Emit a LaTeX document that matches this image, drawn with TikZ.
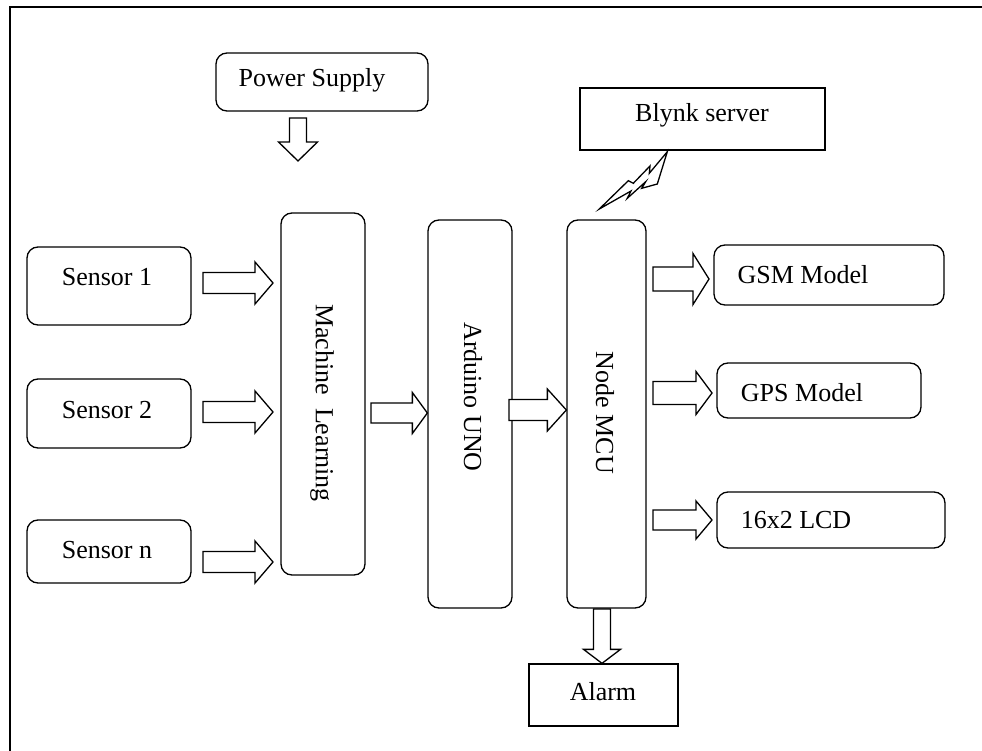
\documentclass[tikz,border=0pt]{standalone}
\usepackage{fontspec}
\setmainfont{Liberation Serif}
\usetikzlibrary{calc}
\tikzset{
  rbox/.style={draw, line width=1.3pt, rounded corners=11pt, inner sep=0pt},
  sbox/.style={draw, line width=1.3pt, inner sep=0pt},
  lbl/.style={font=\fontsize{26}{30}\selectfont, inner sep=0pt},
  blk/.style={draw, line width=1.3pt, fill=white, line join=miter},
  frame/.style={line width=1.8pt},
}
\newcommand\hblock[5]{\draw[blk] let \p1=(#1), \p2=(#2) in
  (\x1,\y1+#3) -- (\x2-#5,\y1+#3) -- (\x2-#5,\y1+#4) -- (\x2,\y1) --
  (\x2-#5,\y1-#4) -- (\x2-#5,\y1-#3) -- (\x1,\y1-#3) -- cycle;}
\newcommand\vblock[5]{\draw[blk] let \p1=(#1), \p2=(#2) in
  (\x1-#3,\y1) -- (\x1-#3,\y2+#5) -- (\x1-#4,\y2+#5) -- (\x1,\y2) --
  (\x1+#4,\y2+#5) -- (\x1+#3,\y2+#5) -- (\x1+#3,\y1) -- cycle;}
\begin{document}
\begin{tikzpicture}[x=1pt,y=-1pt]
\useasboundingbox (0,0) rectangle (982,751);
% outer frame
\draw[frame] (10,760) -- (10,7) -- (990,7);

% boxes
\node[rbox, minimum width=212pt, minimum height=58pt] (ps) at (322,82) {};
\node[lbl] (pst) at (312,80) {Power Supply};
\node[sbox, minimum width=245pt, minimum height=62pt] (bl) at (702.5,119) {};
\node[lbl] (blt) at (702,115) {Blynk server};

\node[rbox, minimum width=164pt, minimum height=78pt] (s1) at (109,286) {};
\node[lbl] (s1t) at (107,277) {Sensor 1};
\node[rbox, minimum width=164pt, minimum height=69pt] (s2) at (109,413.5) {};
\node[lbl] (s2t) at (107,410) {Sensor 2};
\node[rbox, minimum width=164pt, minimum height=63pt] (sn) at (109,551.5) {};
\node[lbl] (snt) at (107,550) {Sensor n};

\node[rbox, minimum width=84pt, minimum height=362pt] (ml) at (323,394) {};
\node[lbl, rotate=-90] (mlt) at (322,403) {Machine\ \ Learning};
\node[rbox, minimum width=84pt, minimum height=388pt] (ard) at (470,414) {};
\node[lbl, rotate=-90] (ardt) at (473,397) {Arduino UNO};
\node[rbox, minimum width=79pt, minimum height=388pt] (mcu) at (606.5,414) {};
\node[lbl, rotate=-90] (mcut) at (605,413) {Node MCU};

\node[rbox, minimum width=230pt, minimum height=60pt] (gsm) at (829,275) {};
\node[lbl] (gsmt) at (803,275) {GSM Model};
\node[rbox, minimum width=204pt, minimum height=55pt] (gps) at (819,390.5) {};
\node[lbl] (gpst) at (802,393) {GPS Model};
\node[rbox, minimum width=228pt, minimum height=56pt] (lcd) at (831,520) {};
\node[lbl] (lcdt) at (796,520) {16x2 LCD};
\node[sbox, minimum width=149pt, minimum height=62pt] (al) at (603.5,695) {};
\node[lbl] (alt) at (603,692) {Alarm};

% arrow end points
\coordinate (a0s) at (298,118);  \coordinate (a0e) at (298,161);
\coordinate (a1s) at (203,283);  \coordinate (a1e) at (273,283);
\coordinate (a2s) at (203,412);  \coordinate (a2e) at (273,412);
\coordinate (a3s) at (203,562);  \coordinate (a3e) at (273,562);
\coordinate (a4s) at (371,413);  \coordinate (a4e) at (ard.west |- 0,413);
\coordinate (a5s) at (509,410);  \coordinate (a5e) at (mcu.west |- 0,410);
\coordinate (a6s) at (653,279);  \coordinate (a6e) at (709,279);
\coordinate (a7s) at (653,393);  \coordinate (a7e) at (712,393);
\coordinate (a8s) at (653,520);  \coordinate (a8e) at (712,520);
\coordinate (a9s) at (602,609);  \coordinate (a9e) at (al.north -| 602,0);

\vblock{a0s}{a0e}{8.5pt}{19.5pt}{19pt}
\hblock{a1s}{a1e}{10.5pt}{21pt}{18pt}
\hblock{a2s}{a2e}{10.5pt}{21pt}{18pt}
\hblock{a3s}{a3e}{10.5pt}{21pt}{18pt}
\hblock{a4s}{a4e}{10pt}{20.5pt}{15pt}
\hblock{a5s}{a5e}{10.5pt}{21pt}{19pt}
\hblock{a6s}{a6e}{12pt}{25.5pt}{16pt}
\hblock{a7s}{a7e}{11.5pt}{21.5pt}{16pt}
\hblock{a8s}{a8e}{10pt}{19pt}{16pt}
\vblock{a9s}{a9e}{8.5pt}{18.5pt}{14pt}

% lightning bolt
\draw[blk] (667.3,151.7) -- (657.3,184) -- (641.7,188.3) -- (645.7,181.7)
  -- (627.3,198.3) -- (631,191) -- (599.3,209) -- (628.3,180.7)
  -- (633.3,183.3) -- (650,166) -- (649.3,173.3) -- cycle;
\end{tikzpicture}
\end{document}
